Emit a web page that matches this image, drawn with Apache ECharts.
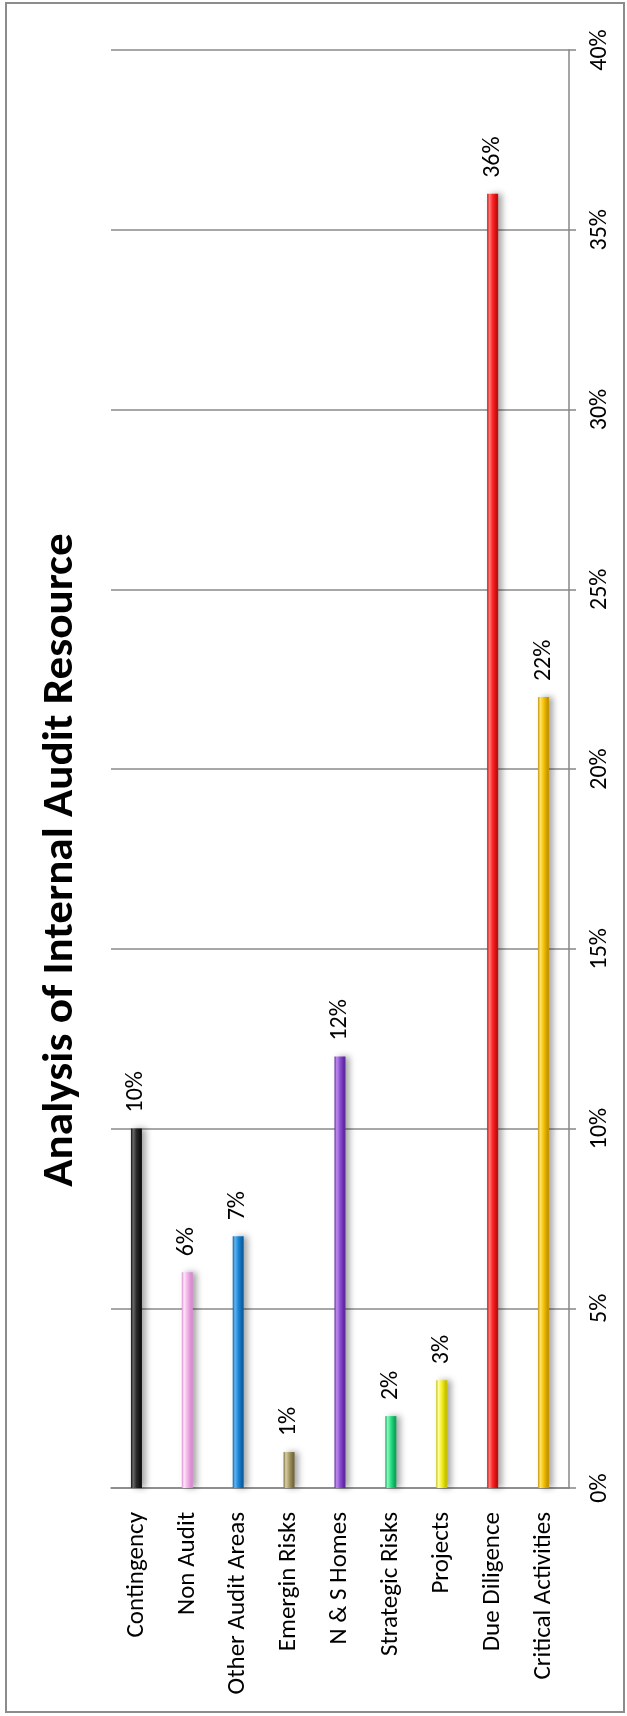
<!DOCTYPE html>
<html>
<head>
<meta charset="utf-8">
<script src="https://cdn.jsdelivr.net/npm/echarts@6/dist/echarts.min.js"></script>
<style>
  html, body { margin: 0; padding: 0; background: #fff; }
  #main { width: 627px; height: 1716px; }
  #frame { position: absolute; left: 5px; top: 2px; width: 616px; height: 1707px; border: 2px solid #8c8c8c; pointer-events: none; }
</style>
</head>
<body>
<div id="main"></div>
<div id="frame"></div>
<script>
// chart data
const categories = ['Contingency', 'Non Audit', 'Other Audit Areas', 'Emergin Risks', 'N & S Homes',
  'Strategic Risks', 'Projects', 'Due Diligence', 'Critical Activities']
const shares = [0.10, 0.06, 0.07, 0.01, 0.12, 0.02, 0.03, 0.36, 0.22]
const titleText = 'Analysis of Internal Audit Resource'

// light edge, body, dark edge for each bar
const barColors = [
  ['#6a6a6a', '#2b2b2b', '#111111'],
  ['#ffe6fb', '#f2b4ea', '#d98ccf'],
  ['#62b6f2', '#1e88d8', '#0d5fa3'],
  ['#d8d0a4', '#a89c6a', '#77693c'],
  ['#c08cf0', '#8c4fd2', '#5e2ba0'],
  ['#8ef5bd', '#25e084', '#11a55b'],
  ['#ffff9a', '#f5f025', '#c9c200'],
  ['#ff7a7a', '#ff2424', '#c40e0e'],
  ['#ffe46a', '#f7c400', '#c79600']
]

const font = 'Carlito, Calibri, Lato, sans-serif'

function barStyle(c) {
  return {
    color: new echarts.graphic.LinearGradient(0, 0, 1, 0, [
      { offset: 0, color: c[2] },
      { offset: 0.2, color: c[0] },
      { offset: 0.5, color: c[1] },
      { offset: 0.85, color: c[2] },
      { offset: 1, color: c[2] }
    ]),
    shadowColor: 'rgba(0,0,0,0.35)',
    shadowBlur: 6,
    shadowOffsetX: 4
  }
}

let myChart = echarts.init(document.getElementById('main'))

let option = {
  animation: false,
  graphic: [
    {
      type: 'text',
      x: 61,
      y: 860,
      rotation: Math.PI / 2,
      scaleX: 1.05,
      style: {
        text: titleText,
        font: 'bold 43px ' + font,
        fill: '#000',
        textAlign: 'center',
        textVerticalAlign: 'middle'
      }
    }
  ],
  grid: {
    left: 111,
    right: 58,
    top: 50,
    bottom: 228,
    containLabel: false
  },
  xAxis: {
    type: 'category',
    data: categories,
    axisLine: { lineStyle: { color: '#878787', width: 1.5 } },
    axisTick: { length: 8, lineStyle: { color: '#878787', width: 1.5 } },
    axisLabel: {
      rotate: 90,
      margin: 24,
      interval: 0,
      fontSize: 25,
      fontFamily: font,
      color: '#000'
    }
  },
  yAxis: {
    type: 'value',
    position: 'right',
    min: 0,
    max: 0.4,
    interval: 0.05,
    axisLine: { show: true, lineStyle: { color: '#878787', width: 1.5 } },
    axisTick: { show: true, length: 7, lineStyle: { color: '#878787', width: 1.5 } },
    splitLine: { lineStyle: { color: '#8a8a8a', width: 1.5 } },
    axisLabel: {
      rotate: 90,
      margin: 31,
      align: 'center',
      verticalAlign: 'middle',
      fontSize: 24,
      fontFamily: font,
      color: '#000',
      formatter: v => Math.round(v * 100) + '%'
    }
  },
  series: [
    {
      type: 'bar',
      barWidth: 11,
      data: shares.map((v, i) => ({ value: v, itemStyle: barStyle(barColors[i]) })),
      label: {
        show: true,
        position: 'top',
        rotate: 90,
        align: 'left',
        verticalAlign: 'middle',
        distance: 16,
        fontSize: 24,
        fontFamily: font,
        color: '#000',
        formatter: p => Math.round(p.value * 100) + '%'
      }
    }
  ]
}

myChart.setOption(option)
</script>
</body>
</html>
